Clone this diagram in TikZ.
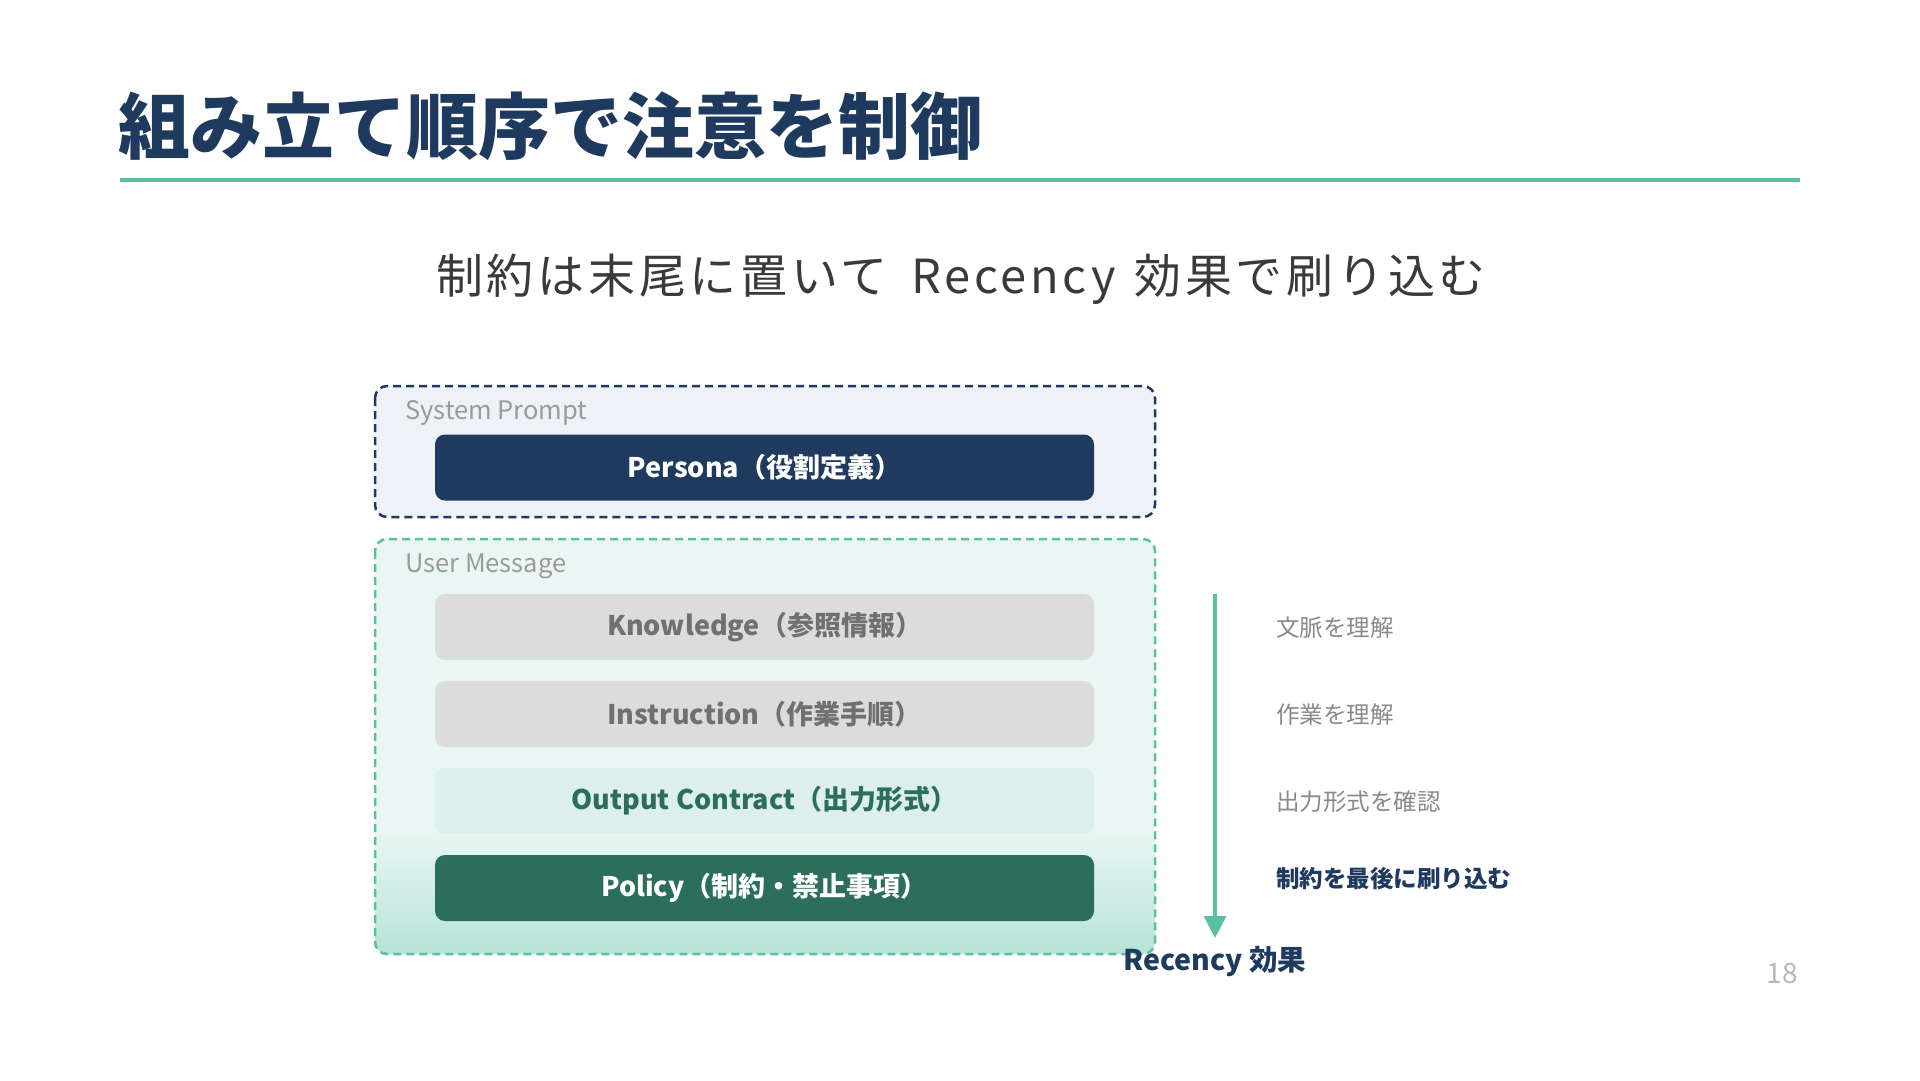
\documentclass[tikz,border=0pt]{standalone}
\usepackage{fontspec}
\setmainfont{Noto Sans CJK JP}
\usetikzlibrary{arrows.meta}
\definecolor{navy}{HTML}{1F3A5F}
\definecolor{teal}{HTML}{5BBFA4}
\definecolor{sysfill}{HTML}{EEF2F7}
\definecolor{umtop}{HTML}{EAF6F3}
\definecolor{umbot}{HTML}{B6E4D7}
\definecolor{dkgreen}{HTML}{2A6E5B}
\definecolor{graybox}{HTML}{DCDCDC}
\definecolor{graytext}{HTML}{707070}
\definecolor{outbox}{HTML}{DDEFEA}
\definecolor{labelgray}{HTML}{9A9A9A}
\definecolor{sidegray}{HTML}{8A8A8A}
\definecolor{subtext}{HTML}{3A3A3A}
\pgfdeclareverticalshading{umshade}{100bp}{color(0bp)=(umbot); color(25bp)=(umbot); color(40bp)=(umtop); color(100bp)=(umtop)}
\newcommand{\fs}[1]{\fontsize{#1}{#1}\selectfont}
\tikzset{
  layer/.style={rounded corners=10pt, minimum width=659pt, minimum height=66pt, inner sep=0pt, font=\fs{27}\bfseries},
  grouplabel/.style={anchor=west, inner sep=0pt, text=labelgray, font=\fs{25.5}},
  sidelabel/.style={anchor=west, inner sep=0pt, text=sidegray, font=\fs{23.5}},
}
\begin{document}
\begin{tikzpicture}[x=1pt,y=-1pt]
\useasboundingbox[fill=white] (0,0) rectangle (1920,1080);
% title
\node[anchor=west, inner sep=0pt, text=navy, font=\fs{72}\bfseries] (title) at (118,126) {組み立て順序で注意を制御};
\draw[teal, line width=4.5pt] (120,180) -- (1800,180);
% subtitle
\node[inner sep=0pt, text=subtext, font=\fs{47}\addfontfeatures{LetterSpace=8}] (subtitle) at (961,279) {制約は末尾に置いて\hspace{0.5em}Recency\hspace{0.4em}効果で刷り込む};
% system prompt group
\draw[navy, fill=sysfill, line width=2.5pt, dash pattern=on 8pt off 5pt, rounded corners=12pt] (375,386) rectangle (1155,517);
\node[grouplabel] (syslabel) at (405,413) {System Prompt};
\node[layer, fill=navy, text=white] (persona) at (764.5,467.5) {Persona（役割定義）};
% user message group
\shade[shading=umshade, rounded corners=12pt] (375,539) rectangle (1155,954);
\draw[teal, line width=2.5pt, dash pattern=on 8pt off 5pt, rounded corners=12pt] (375,539) rectangle (1155,954);
\node[grouplabel] (umlabel) at (405,566) {User Message};
\node[layer, fill=graybox, text=graytext] (knowledge) at (764.5,627) {Knowledge（参照情報）};
\node[layer, fill=graybox, text=graytext] (instruction) at (764.5,714) {Instruction（作業手順）};
\node[layer, fill=outbox, text=dkgreen] (output) at (764.5,801) {Output Contract（出力形式）};
\node[layer, fill=dkgreen, text=white] (policy) at (764.5,888) {Policy（制約・禁止事項）};
% recency arrow
\coordinate (arrtop) at (1215,594);
\coordinate (arrbot) at (1215,938);
\draw[teal, line width=3.5pt, -{Triangle[width=22pt,length=22pt]}] (arrtop) -- (arrbot);
\node[inner sep=0pt, text=navy, font=\fs{28.5}\bfseries] (recency) at (1215,962) {Recency 効果};
% side labels
\node[sidelabel] (s1) at (1276,628) {文脈を理解};
\node[sidelabel] (s2) at (1276,715) {作業を理解};
\node[sidelabel] (s3) at (1276,802) {出力形式を確認};
\node[sidelabel, text=navy, font=\fs{23.5}\bfseries] (s4) at (1276,879) {制約を最後に刷り込む};
% page number
\node[inner sep=0pt, text=black!28, font=\fs{28}] (page) at (1782,974) {18};
\end{tikzpicture}
\end{document}
